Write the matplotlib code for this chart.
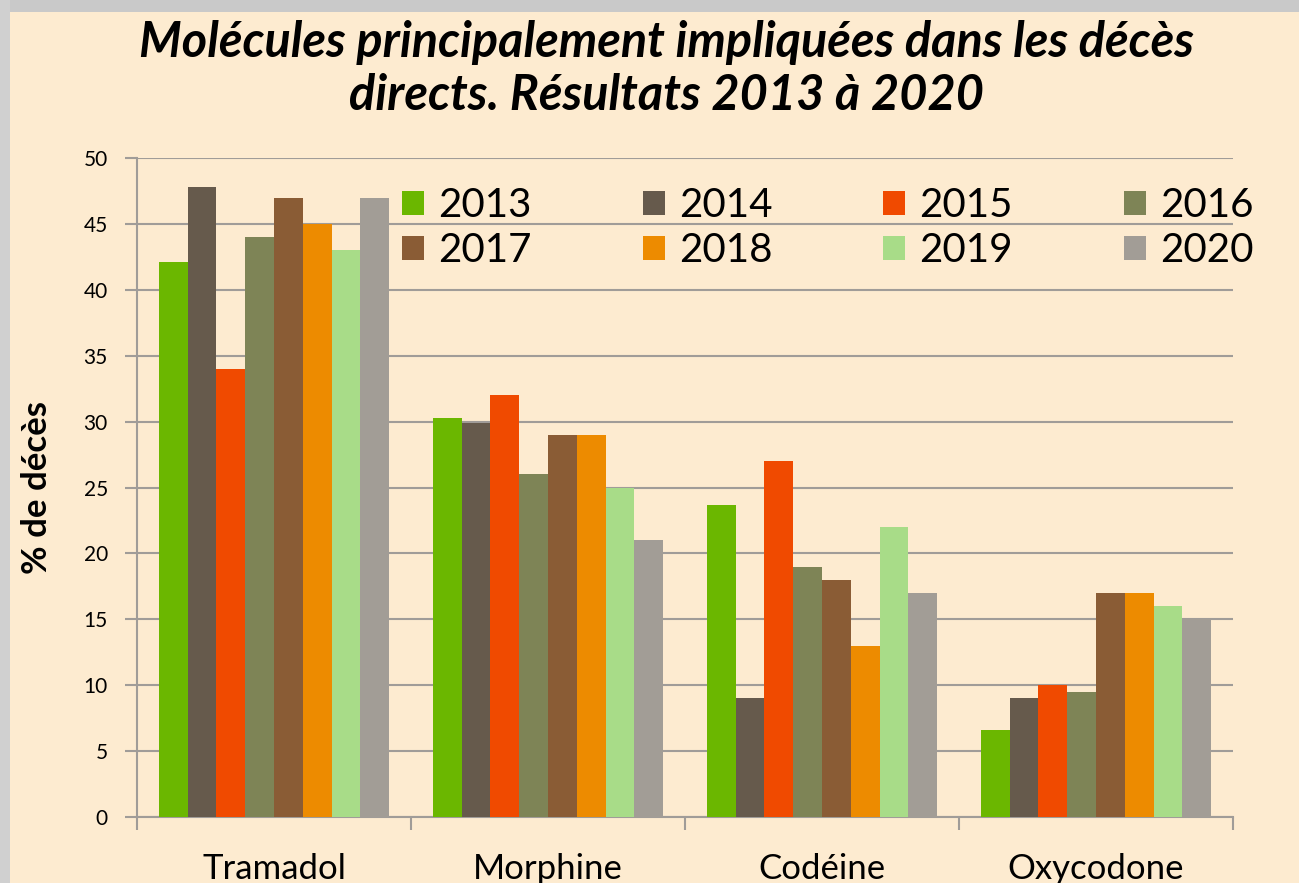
import numpy as np
import matplotlib
matplotlib.use("Agg")
import matplotlib.pyplot as plt
from matplotlib.patches import Rectangle

# Données
molecules = ["Tramadol", "Morphine", "Codéine", "Oxycodone"]
annees = ["2013", "2014", "2015", "2016", "2017", "2018", "2019", "2020"]
v2013 = [42.1, 30.3, 23.7, 6.6]
v2014 = [47.8, 29.9, 9, 9]
v2015 = [34, 32, 27, 10]
v2016 = [44, 26, 19, 9.5]
v2017 = [47, 29, 18, 17]
v2018 = [45, 29, 13, 17]
v2019 = [43, 25, 22, 16]
v2020 = [47, 21, 17, 15]
series = [v2013, v2014, v2015, v2016, v2017, v2018, v2019, v2020]
couleurs = ["#6BB700", "#665A4C", "#F04A00", "#7E8456",
            "#8A5C35", "#ED8B00", "#A8DC88", "#A29D96"]

fond = "#FDEBD0"
gris = "#A09C98"

plt.rcParams['font.family'] = ['Lato', 'DejaVu Sans']

fig = plt.figure(figsize=(12.99, 8.83), dpi=100)
fig.patch.set_facecolor(fond)

# Cadre gris (ombre) en haut et à gauche
fig.patches.append(Rectangle((0, 1 - 12 / 883), 1, 12 / 883, transform=fig.transFigure,
                             facecolor="#C9C9C9", edgecolor="none", zorder=0))
fig.patches.append(Rectangle((0, 0), 10 / 1299, 1, transform=fig.transFigure,
                             facecolor="#D0D0D0", edgecolor="none", zorder=0))

ax = fig.add_axes([137 / 1299, 1 - 817 / 883, (1233 - 137) / 1299, (817 - 158) / 883])
ax.set_facecolor(fond)

x = np.arange(len(molecules))
largeur = 0.105
barres = []
for i, (vals, c) in enumerate(zip(series, couleurs)):
    b = ax.bar(x + (i - 3.5) * largeur, vals, largeur, color=c, label=annees[i], zorder=3)
    barres.append(b)

ax.set_xlim(-0.5, len(molecules) - 0.5)
ax.set_ylim(0, 50)
ax.set_yticks(range(0, 51, 5))
ax.yaxis.grid(True, color=gris, linewidth=1.5, zorder=0)
ax.set_axisbelow(True)

for s in ["top", "right"]:
    ax.spines[s].set_visible(False)
for s in ["left", "bottom"]:
    ax.spines[s].set_color(gris)
    ax.spines[s].set_linewidth(1.5)

ax.set_xticks(x)
ax.set_xticklabels(molecules, fontsize=25)
ax.set_xticks(np.arange(-0.5, len(molecules), 1), minor=True)
ax.tick_params(axis="x", which="major", length=0, pad=26)
ax.tick_params(axis="x", which="minor", length=9, width=1.5, color=gris)
ax.tick_params(axis="y", length=9, width=1.5, color=gris, labelsize=15, pad=12)

ax.set_ylabel("% de décès", fontsize=25, fontweight="bold", labelpad=22)

# Légende sur deux lignes : 2013-2016 puis 2017-2020
ordre = [0, 4, 1, 5, 2, 6, 3, 7]
leg = fig.legend([barres[i] for i in ordre], [annees[i] for i in ordre],
                 ncol=4, loc="upper left", bbox_to_anchor=(402 / 1299, 1 - 187 / 883),
                 frameon=False, fontsize=29, handlelength=0.55, handleheight=0.55,
                 handletextpad=0.35, columnspacing=2.75, labelspacing=0.2,
                 borderpad=0, borderaxespad=0)

fig.text(0.513, 1 - 69 / 883,
         "Molécules principalement impliquées dans les décès\ndirects. Résultats 2013 à 2020",
         ha="center", va="center", fontsize=35, fontweight="bold", fontstyle="italic",
         linespacing=1.22)

fig.savefig("out.png", dpi=100, facecolor=fig.get_facecolor())
